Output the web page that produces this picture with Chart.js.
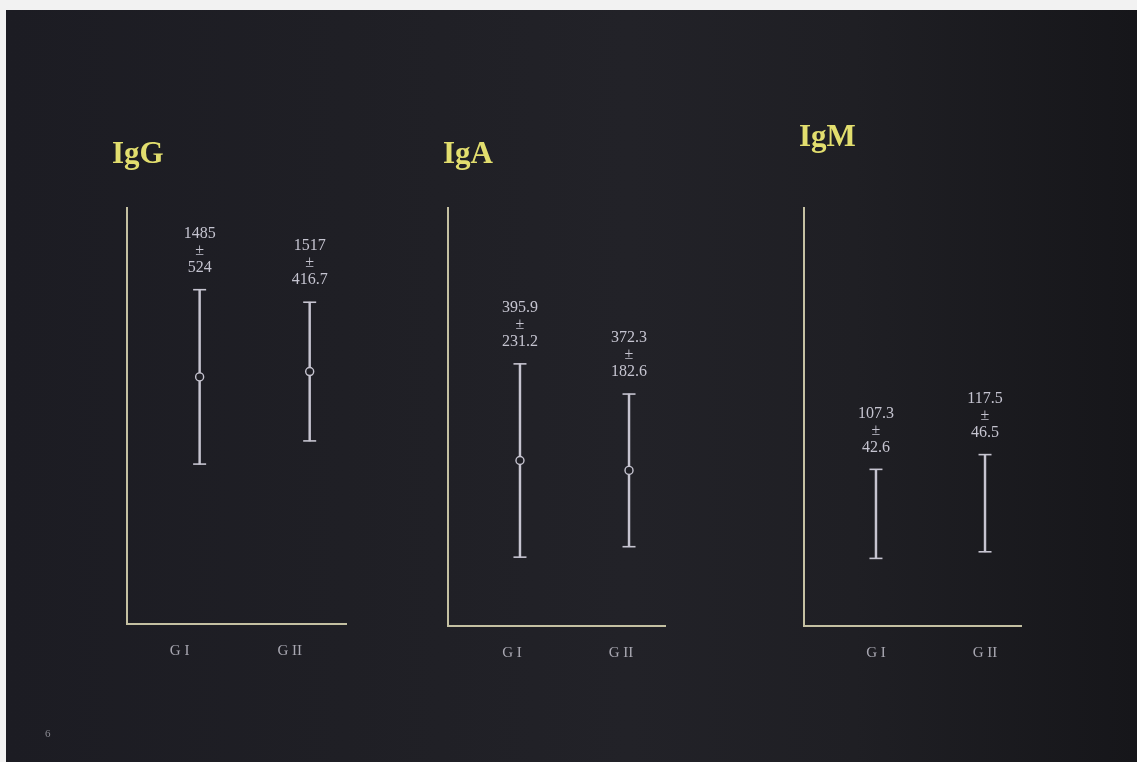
<!DOCTYPE html>
<html>
<head>
<meta charset="utf-8">
<title>IgG, IgA, IgM — G I vs G II</title>
<script src="https://cdn.jsdelivr.net/npm/chart.js@4/dist/chart.umd.min.js"></script>
<style>
  html, body { margin: 0; padding: 0; }
  body { width: 1137px; height: 762px; overflow: hidden; background: #f2f2f2; }
  #stage {
    position: absolute; left: 6px; top: 10px; width: 1131px; height: 752px;
    background: linear-gradient(90deg, #1c1c23 0%, #1f1f25 30%, #222228 55%, #1f1f24 75%, #16161a 100%);
    overflow: hidden;
  }
  canvas { position: absolute; left: -6px; top: -10px; }
  .panel-title {
    position: absolute; font-family: "Liberation Serif", "Times New Roman", serif;
    font-weight: bold; font-size: 31px; line-height: 1; color: #e2de6e; white-space: nowrap;
  }
  #page-no {
    position: absolute; left: 39px; top: 717px; font-family: "Liberation Serif", serif;
    font-size: 11px; color: #8c8c94;
  }
</style>
</head>
<body>
<div id="stage">
  <canvas id="cIgG" width="1137" height="762"></canvas>
  <canvas id="cIgA" width="1137" height="762"></canvas>
  <canvas id="cIgM" width="1137" height="762"></canvas>
  <div class="panel-title" style="left:106px; top:127px;">IgG</div>
  <div class="panel-title" style="left:437px; top:127px;">IgA</div>
  <div class="panel-title" style="left:793px; top:110px;">IgM</div>
  <div id="page-no">6</div>
</div>
<script>
// Groups compared in each panel
const groups = ['G I', 'G II'];

// Serum immunoglobulin levels: mean and standard deviation per group
const iggMean = [1485, 1517];
const iggSD = [524, 416.7];
const igaMean = [395.9, 372.3];
const igaSD = [231.2, 182.6];
const igmMean = [107.3, 117.5];
const igmSD = [42.6, 46.5];

// Upper limit of each panel's value axis
const iggAxisMax = 2500;
const igaAxisMax = 1000;
const igmAxisMax = 400;

const W = 1137, H = 762;
const barColor = '#c6c4d0';
const axisColor = '#c4c0a2';
const labelColor = '#c5c4d0';
const serif = '"Liberation Serif", "Times New Roman", serif';

// Writes "mean / ± / sd" above the upper whisker of each group
function valueLabelPlugin(mean, sd) {
  return {
    id: 'valueLabels',
    afterDatasetsDraw(chart) {
      const { ctx, scales: { x, y } } = chart;
      ctx.save();
      ctx.fillStyle = labelColor;
      ctx.font = '16px ' + serif;
      ctx.textAlign = 'center';
      ctx.textBaseline = 'middle';
      mean.forEach((m, i) => {
        const px = x.getPixelForValue(i);
        const top = y.getPixelForValue(m + sd[i]);
        const lines = [String(m), '±', String(sd[i])];
        const gap = 17;
        const last = top - 22;
        lines.forEach((t, k) => {
          ctx.fillText(t, px, last - (lines.length - 1 - k) * gap);
        });
      });
      ctx.restore();
    }
  };
}

function makePanel(id, mean, sd, axisMax, area, showMean, labelOffset) {
  const datasets = [
    {
      type: 'bar',
      order: 3,
      data: groups.map((g, i) => ({ x: i, y: [mean[i] - sd[i], mean[i] + sd[i]] })),
      backgroundColor: barColor,
      borderWidth: 0,
      barThickness: 1.8
    },
    {
      type: 'scatter',
      order: 2,
      data: groups.map((g, i) => ({ x: i, y: mean[i] + sd[i] })),
      pointStyle: 'line',
      pointRadius: 6.5,
      borderColor: barColor,
      borderWidth: 1.6
    },
    {
      type: 'scatter',
      order: 2,
      data: groups.map((g, i) => ({ x: i, y: mean[i] - sd[i] })),
      pointStyle: 'line',
      pointRadius: 6.5,
      borderColor: barColor,
      borderWidth: 1.6
    }
  ];
  if (showMean) {
    datasets.push({
      type: 'scatter',
      order: 1,
      data: groups.map((g, i) => ({ x: i, y: mean[i] })),
      pointStyle: 'circle',
      pointRadius: 4,
      borderColor: barColor,
      backgroundColor: '#1f1f25',
      borderWidth: 1.4
    });
  }

  return new Chart(document.getElementById(id), {
    type: 'bar',
    data: { datasets },
    plugins: [valueLabelPlugin(mean, sd)],
    options: {
      responsive: false,
      animation: false,
      events: [],
      layout: {
        padding: { left: area.left, top: area.top, right: W - area.right, bottom: H - area.bottom - 40 }
      },
      plugins: { legend: { display: false }, tooltip: { enabled: false }, title: { display: false } },
      scales: {
        x: {
          type: 'linear',
          offset: false,
          min: -0.66,
          max: 1.33,
          afterBuildTicks(s) { s.ticks = groups.map((g, i) => ({ value: i })); },
          afterFit(s) { s.height = 40; },
          grid: { display: false, drawTicks: false, tickLength: 0, offset: false },
          border: { display: true, color: axisColor, width: 2 },
          ticks: {
            autoSkip: false,
            maxRotation: 0,
            padding: 18,
            labelOffset: labelOffset,
            color: '#a9a8b2',
            font: { family: serif, size: 15 },
            callback: (v) => groups[v]
          }
        },
        y: {
          type: 'linear',
          min: 0,
          max: axisMax,
          afterFit(s) { s.width = 0; },
          grid: { display: false, drawTicks: false, tickLength: 0 },
          border: { display: true, color: axisColor, width: 2 },
          ticks: { display: false }
        }
      }
    }
  });
}

makePanel('cIgG', iggMean, iggSD, iggAxisMax, { left: 127, right: 346, top: 208, bottom: 624 }, true, -20);
makePanel('cIgA', igaMean, igaSD, igaAxisMax, { left: 448, right: 665, top: 208, bottom: 626 }, true, -8);
makePanel('cIgM', igmMean, igmSD, igmAxisMax, { left: 804, right: 1021, top: 208, bottom: 626 }, false, 0);
</script>
</body>
</html>
